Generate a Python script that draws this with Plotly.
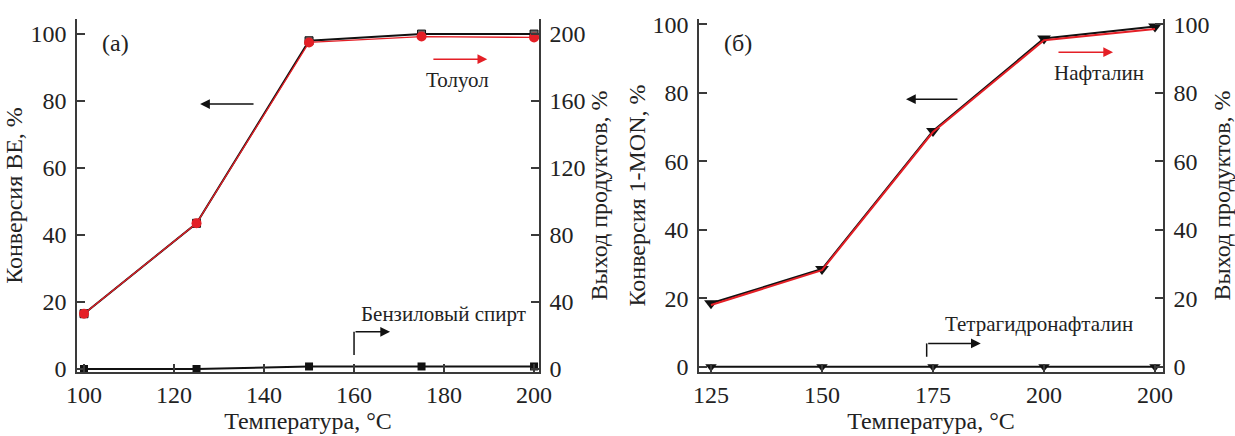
import plotly.graph_objects as go

# ---------------- data ----------------
# panel (a)
temp_a = [100, 125, 150, 175, 200]
conv_be = [16.5, 43.5, 98.0, 100.0, 100.0]          # left axis, %
yield_toluene = [33.0, 87.0, 195.0, 198.5, 198.0]   # right axis, %
yield_benzyl = [0.0, 0.0, 1.5, 1.5, 1.5]            # right axis, %

# panel (б)
temp_b_labels = ["125", "150", "175", "200", "200"]
temp_b_pos = [0, 1, 2, 3, 4]
conv_mon = [18.5, 28.5, 68.8, 95.8, 99.3]           # left axis, %
yield_naph = [18.0, 28.2, 68.5, 95.3, 98.6]         # right axis, %
yield_thn = [0.0, 0.0, 0.0, 0.0, 0.0]               # right axis, %

ticks_a_x = [100, 120, 140, 160, 180, 200]
ticks_a_yl = [0, 20, 40, 60, 80, 100]
ticks_a_yr = [0, 40, 80, 120, 160, 200]
ticks_b_y = [0, 20, 40, 60, 80, 100]

RED = "#e41f26"
BLK = "#111111"
AX = "#3a3a3a"
FONT = "Liberation Serif, Times New Roman, serif"

W, H = 1235, 436
def fx(px):
    return px / W
def fy(py):
    return 1 - py / H

fig = go.Figure()

# ---- panel (a) ----
fig.add_trace(go.Scatter(x=temp_a, y=conv_be, mode="lines+markers",
                         line=dict(color=BLK, width=2),
                         marker=dict(symbol="square", size=8, color="#666",
                                     line=dict(color=BLK, width=1)),
                         xaxis="x", yaxis="y", showlegend=False))
fig.add_trace(go.Scatter(x=temp_a, y=yield_toluene, mode="lines+markers",
                         line=dict(color=RED, width=1.3),
                         marker=dict(symbol="circle", size=10, color=RED),
                         xaxis="x", yaxis="y2", showlegend=False))
fig.add_trace(go.Scatter(x=temp_a, y=yield_benzyl, mode="lines+markers",
                         line=dict(color=BLK, width=2),
                         marker=dict(symbol="square", size=8, color=BLK),
                         xaxis="x", yaxis="y2", showlegend=False))

# ---- panel (б) ----
fig.add_trace(go.Scatter(x=temp_b_pos, y=yield_naph, mode="lines",
                         line=dict(color=RED, width=2),
                         xaxis="x2", yaxis="y4", showlegend=False))
fig.add_trace(go.Scatter(x=temp_b_pos, y=conv_mon, mode="lines+markers",
                         line=dict(color=BLK, width=2),
                         marker=dict(symbol="triangle-down", size=12, color=BLK),
                         xaxis="x2", yaxis="y3", showlegend=False))
fig.add_trace(go.Scatter(x=temp_b_pos, y=yield_thn, mode="lines+markers",
                         line=dict(color=BLK, width=2),
                         marker=dict(symbol="triangle-down", size=10, color=BLK),
                         xaxis="x2", yaxis="y4", showlegend=False))

tickfont = dict(family=FONT, size=24, color="#222")
titlefont = dict(family=FONT, size=24, color="#222")
common = dict(showline=True, linecolor=AX, linewidth=1.5, ticks="inside",
              ticklen=8, tickwidth=1.5, tickcolor=AX, showgrid=False,
              zeroline=False, tickfont=tickfont, mirror=False, automargin=False)

ydom = [fy(372), fy(19)]

fig.update_layout(
    width=W, height=H, margin=dict(l=0, r=0, t=0, b=0, autoexpand=False),
    paper_bgcolor="white", plot_bgcolor="white",
    xaxis=dict(domain=[fx(77), fx(539)], range=[98.44, 201.1],
               tickvals=ticks_a_x, anchor="y",
               title=dict(text="Температура, °C", font=titlefont, standoff=3),
               **common),
    yaxis=dict(domain=ydom, range=[-0.9, 104.5], tickvals=ticks_a_yl,
               anchor="x", ticklabelstandoff=4,
               title=dict(text="Конверсия BE, %", font=titlefont, standoff=1),
               **common),
    yaxis2=dict(domain=ydom, range=[-1.8, 209.0], tickvals=ticks_a_yr,
                overlaying="y", side="right", anchor="x", ticklabelstandoff=4,
                title=dict(text="Выход продуктов, %", font=titlefont, standoff=6),
                **common),
    xaxis2=dict(domain=[fx(699), fx(1163)], range=[-0.108, 4.072],
                tickvals=temp_b_pos, ticktext=temp_b_labels, anchor="y3",
                title=dict(text="Температура, °C", font=titlefont, standoff=3),
                **common),
    yaxis3=dict(domain=ydom, range=[-1.55, 101.5], tickvals=ticks_b_y,
                anchor="x2", ticklabelstandoff=4,
                title=dict(text="Конверсия 1-MON, %", font=titlefont, standoff=0),
                **common),
    yaxis4=dict(domain=ydom, range=[-1.55, 101.5], tickvals=ticks_b_y,
                overlaying="y3", side="right", anchor="x2", ticklabelstandoff=4,
                title=dict(text="Выход продуктов, %", font=titlefont, standoff=5),
                **common),
)

afont = dict(family=FONT, size=21, color="#222")
ann = []
# panel (a) labels
ann.append(dict(x=106.9, y=97.3, xref="x", yref="y", text="(a)", showarrow=False,
                font=dict(family=FONT, size=24, color="#222")))
ann.append(dict(x=183.1, y=86.3, xref="x", yref="y", text="Толуол", showarrow=False, font=afont))
ann.append(dict(x=179.8, y=16.4, xref="x", yref="y", text="Бензиловый спирт", showarrow=False, font=afont))
# black left arrow (a)
ann.append(dict(x=125.8, y=79.1, xref="x", yref="y", ax=138.0, ay=79.1, axref="x", ayref="y",
                text="", showarrow=True, arrowhead=2, arrowsize=1.3, arrowwidth=1.5, arrowcolor=BLK))
# red right arrow (a)
ann.append(dict(x=189.6, y=92.5, xref="x", yref="y", ax=177.3, ay=92.5, axref="x", ayref="y",
                text="", showarrow=True, arrowhead=2, arrowsize=1.3, arrowwidth=1.5, arrowcolor=RED))
# bent arrow (a)
ann.append(dict(x=168.0, y=11.1, xref="x", yref="y", ax=160.0, ay=11.1, axref="x", ayref="y",
                text="", showarrow=True, arrowhead=2, arrowsize=1.3, arrowwidth=1.5, arrowcolor=BLK))

# panel (б) labels
ann.append(dict(x=0.243, y=94.5, xref="x2", yref="y3", text="(б)", showarrow=False,
                font=dict(family=FONT, size=24, color="#222")))
ann.append(dict(x=3.495, y=85.7, xref="x2", yref="y3", text="Нафталин", showarrow=False, font=afont))
ann.append(dict(x=2.955, y=12.5, xref="x2", yref="y3", text="Тетрагидронафталин", showarrow=False, font=afont))
ann.append(dict(x=1.757, y=78.1, xref="x2", yref="y3", ax=2.234, ay=78.1, axref="x2", ayref="y3",
                text="", showarrow=True, arrowhead=2, arrowsize=1.3, arrowwidth=1.5, arrowcolor=BLK))
ann.append(dict(x=3.622, y=91.8, xref="x2", yref="y3", ax=3.117, ay=91.8, axref="x2", ayref="y3",
                text="", showarrow=True, arrowhead=2, arrowsize=1.3, arrowwidth=1.5, arrowcolor=RED))
ann.append(dict(x=2.43, y=6.8, xref="x2", yref="y3", ax=1.943, ay=6.8, axref="x2", ayref="y3",
                text="", showarrow=True, arrowhead=2, arrowsize=1.3, arrowwidth=1.5, arrowcolor=BLK))
fig.update_layout(annotations=ann)

shapes = [
    dict(type="line", xref="x", yref="y", x0=160, x1=160, y0=4.2, y1=11.1,
         line=dict(color=BLK, width=1.5)),
    dict(type="line", xref="x2", yref="y3", x0=1.943, x1=1.943, y0=2.9, y1=6.8,
         line=dict(color=BLK, width=1.5)),
]
fig.update_layout(shapes=shapes)

fig.write_html("out.html")
